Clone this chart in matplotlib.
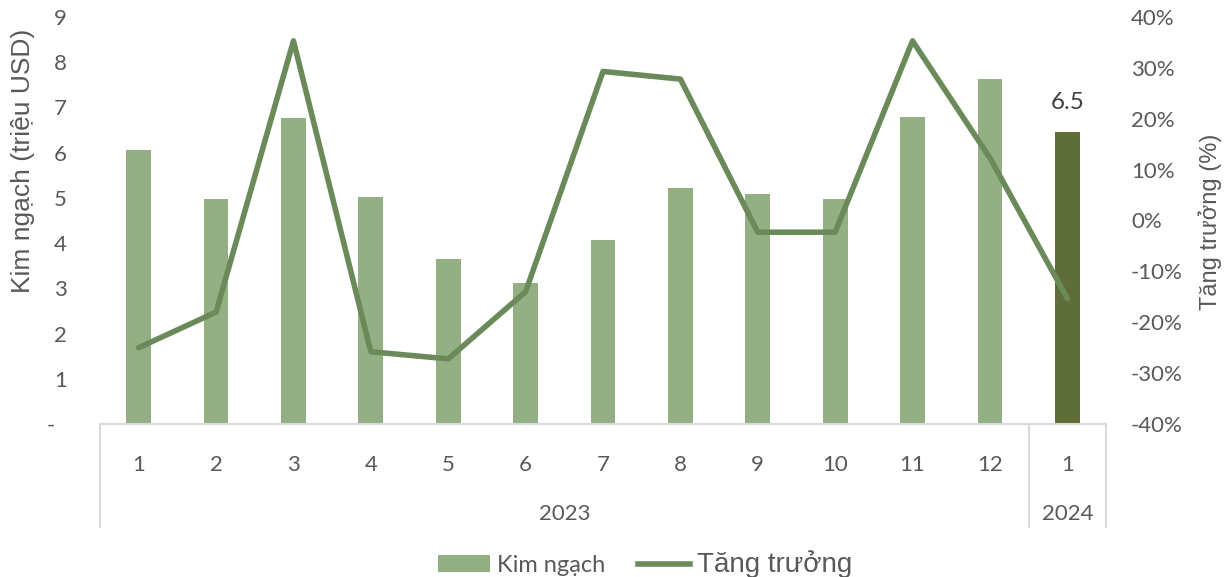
import matplotlib
matplotlib.use("Agg")
import matplotlib.pyplot as plt
import matplotlib.transforms as mtransforms
from matplotlib.patches import Patch
from matplotlib.lines import Line2D
import numpy as np

months = ["1", "2", "3", "4", "5", "6", "7", "8", "9", "10", "11", "12", "1"]
years = ["2023", "2024"]
year_counts = [12, 1]
kim_ngach = [6.05, 4.98, 6.77, 5.03, 3.65, 3.12, 4.07, 5.22, 5.09, 4.98, 6.78, 7.62, 6.45]
tang_truong = [-25.0, -18.0, 35.3, -25.8, -27.2, -14.0, 29.3, 27.8, -2.3, -2.3, 35.3, 12.3, -15.3]
label_last = "6.5"
y_ticks = [0, 1, 2, 3, 4, 5, 6, 7, 8, 9]
y_ticklabels = ["-  ", "1", "2", "3", "4", "5", "6", "7", "8", "9"]
y2_ticks = [-40, -30, -20, -10, 0, 10, 20, 30, 40]

light = "#93AF84"
dark = "#5F6D37"
line_c = "#6A8A5A"
txt = "#595959"
sep = "#D9D9D9"

fig = plt.figure(figsize=(12.26, 5.77), dpi=100)
ax = fig.add_axes([100/1226, 1-424/577, (1106-100)/1226, (424-17)/577])
ax2 = ax.twinx()

x = np.arange(len(months))
colors = [light]*(len(months)-1) + [dark]
ax.bar(x, kim_ngach, width=0.32, color=colors, zorder=2)
ax.annotate(label_last, (x[-1], kim_ngach[-1]), xytext=(0, 14), textcoords="offset points",
            ha="center", va="bottom", fontsize=17.5, color="#404040", family="Lato")

ax2.plot(x, tang_truong, color=line_c, lw=4, solid_capstyle="round", solid_joinstyle="round", zorder=3)

ax.set_xlim(-0.5, len(months)-0.5)
ax.set_ylim(0, 9)
ax2.set_ylim(-40, 40)

ax.set_yticks(y_ticks)
ax.set_yticklabels(y_ticklabels)
ax2.set_yticks(y2_ticks)
ax2.set_yticklabels([f"{v}%" for v in y2_ticks])

for a in (ax, ax2):
    for s in a.spines.values():
        s.set_visible(False)
    a.tick_params(length=0, colors=txt, labelsize=16)
    for lab in a.get_yticklabels():
        lab.set_family("Lato")
ax.tick_params(axis="y", pad=24)
ax2.tick_params(axis="y", pad=18)

ax.set_xticks(x)
ax.set_xticklabels(months, family="Lato", fontsize=16, color=txt)
ax.tick_params(axis="x", pad=22)

ax.spines["bottom"].set_visible(True)
ax.spines["bottom"].set_color(sep)
ax.spines["bottom"].set_linewidth(1.5)

trans = mtransforms.blended_transform_factory(ax.transData, ax.transAxes)
bounds = [-0.5]
start = -0.5
for cnt in year_counts:
    start += cnt
    bounds.append(start)
for b in bounds:
    ax.plot([b, b], [0, -0.253], transform=trans, color=sep, lw=1.5, clip_on=False)
for i, yr in enumerate(years):
    c = (bounds[i] + bounds[i+1]) / 2
    ax.text(c, -0.22, yr, transform=trans, ha="center", va="center",
            fontsize=16, color=txt, family="Lato")

fig.text(23/1226, 1-161/577, "Kim ngạch (triệu USD)", rotation=90, ha="center", va="center",
         fontsize=19, color=txt, family="Liberation Sans")
fig.text(1210/1226, 1-222/577, "Tăng trưởng (%)", rotation=90, ha="center", va="center",
         fontsize=17, color=txt, family="Liberation Sans")

handles = [Patch(facecolor=light, edgecolor="none"),
           Line2D([0], [0], color=line_c, lw=4)]
leg = fig.legend(handles, ["Kim ngạch", "Tăng trưởng"], loc="center",
                 bbox_to_anchor=(645/1226, 1-564/577), ncol=2, frameon=False,
                 fontsize=17, handlelength=2.2, handletextpad=0.3, columnspacing=1.4,
                 borderpad=0.1)
texts = leg.get_texts()
texts[0].set_family("Lato")
texts[1].set_family("Liberation Sans")
texts[1].set_fontsize(20)
for t in texts:
    t.set_color(txt)

fig.savefig("out.png", dpi=100)
